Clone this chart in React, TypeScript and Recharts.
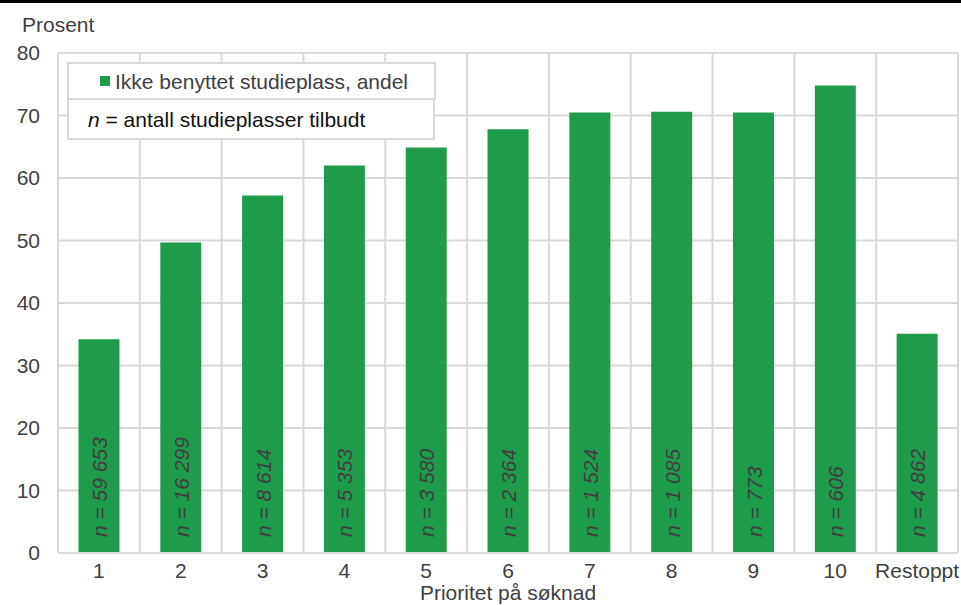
import React from 'react';
import { BarChart, Bar, XAxis, YAxis, CartesianGrid, LabelList } from 'recharts';

const categories = ['1', '2', '3', '4', '5', '6', '7', '8', '9', '10', 'Restoppt'];
const shareValues = [34.2, 49.7, 57.2, 62.0, 64.9, 67.8, 70.5, 70.6, 70.5, 74.8, 35.1];
const nLabels = ['59 653', '16 299', '8 614', '5 353', '3 580', '2 364', '1 524', '1 085', '773', '606', '4 862'];
const yTicks = [0, 10, 20, 30, 40, 50, 60, 70, 80];

const seriesName = 'Ikke benyttet studieplass, andel';
const noteText = ' = antall studieplasser tilbudt';
const yTitle = 'Prosent';
const xTitle = 'Prioritet på søknad';

const GREEN = '#1e9c4a';
const GRID = '#d9d9d9';
const TEXT = '#404040';
const FONT = '"Liberation Sans", Arial, sans-serif';
const FS = 21;

const data = categories.map((c, i) => ({ cat: c, value: shareValues[i], n: nLabels[i] }));

const NLabel = (props: any) => {
  const { x, y, width, height, value } = props;
  const cx = Number(x) + Number(width) / 2;
  const by = Number(y) + Number(height) - 16;
  return (
    <text
      x={cx}
      y={by}
      dy={8}
      transform={`rotate(-90 ${cx} ${by})`}
      textAnchor="start"
      fontFamily={FONT}
      fontSize={FS}
      fontStyle="italic"
      fill={TEXT}
    >
      {'n = ' + value}
    </text>
  );
};

const gridX = (props: any) => {
  const off = props.offset;
  const step = off.width / categories.length;
  return categories.map((_, i) => off.left + i * step).concat([off.left + off.width]);
};

export default function App() {
  return (
    <div style={{ position: 'absolute', left: 0, top: 0, width: 961, height: 605, background: '#fff', fontFamily: FONT }}>
      <div style={{ position: 'absolute', left: 0, top: 0, width: 961, height: 3, background: '#000' }} />
      <div style={{ position: 'absolute', left: 22, top: 13, fontSize: FS, color: TEXT, lineHeight: '24px' }}>{yTitle}</div>
      <BarChart
        width={961}
        height={605}
        data={data}
        margin={{ top: 53, right: 3, bottom: 0, left: 0 }}
        barCategoryGap="25%"
      >
        <CartesianGrid
          stroke={GRID}
          strokeWidth={2}
          verticalCoordinatesGenerator={gridX}
        />
        <XAxis
          dataKey="cat"
          height={52}
          tickLine={false}
          tickSize={0}
          tickMargin={10}
          axisLine={{ stroke: GRID, strokeWidth: 2 }}
          tick={{ fontSize: FS, fill: TEXT, fontFamily: FONT }}
          interval={0}
          label={{ value: xTitle, position: 'insideBottom', offset: 5, fontSize: FS, fill: TEXT, fontFamily: FONT }}
        />
        <YAxis
          width={58}
          domain={[0, 80]}
          ticks={yTicks}
          tickLine={false}
          tickSize={0}
          tickMargin={18}
          axisLine={false}
          tick={{ fontSize: FS, fill: TEXT, fontFamily: FONT }}
        />
        <Bar dataKey="value" fill={GREEN} isAnimationActive={false}>
          <LabelList dataKey="n" content={NLabel} />
        </Bar>
      </BarChart>
      <div style={{ position: 'absolute', left: 67, top: 62, width: 369, height: 38, boxSizing: 'border-box', border: `2px solid ${GRID}`, background: '#fff', display: 'flex', alignItems: 'center' }}>
        <span style={{ display: 'inline-block', width: 10, height: 10, background: GREEN, marginLeft: 31, marginRight: 5 }} />
        <span style={{ fontSize: FS, color: TEXT, lineHeight: '21px' }}>{seriesName}</span>
      </div>
      <div style={{ position: 'absolute', left: 67, top: 100, width: 368, height: 40, boxSizing: 'border-box', border: `2px solid ${GRID}`, borderTop: 'none', background: '#fff', display: 'flex', alignItems: 'center' }}>
        <span style={{ fontSize: FS, color: '#111', lineHeight: '21px', marginLeft: 19 }}><i>n</i>{noteText}</span>
      </div>
    </div>
  );
}
